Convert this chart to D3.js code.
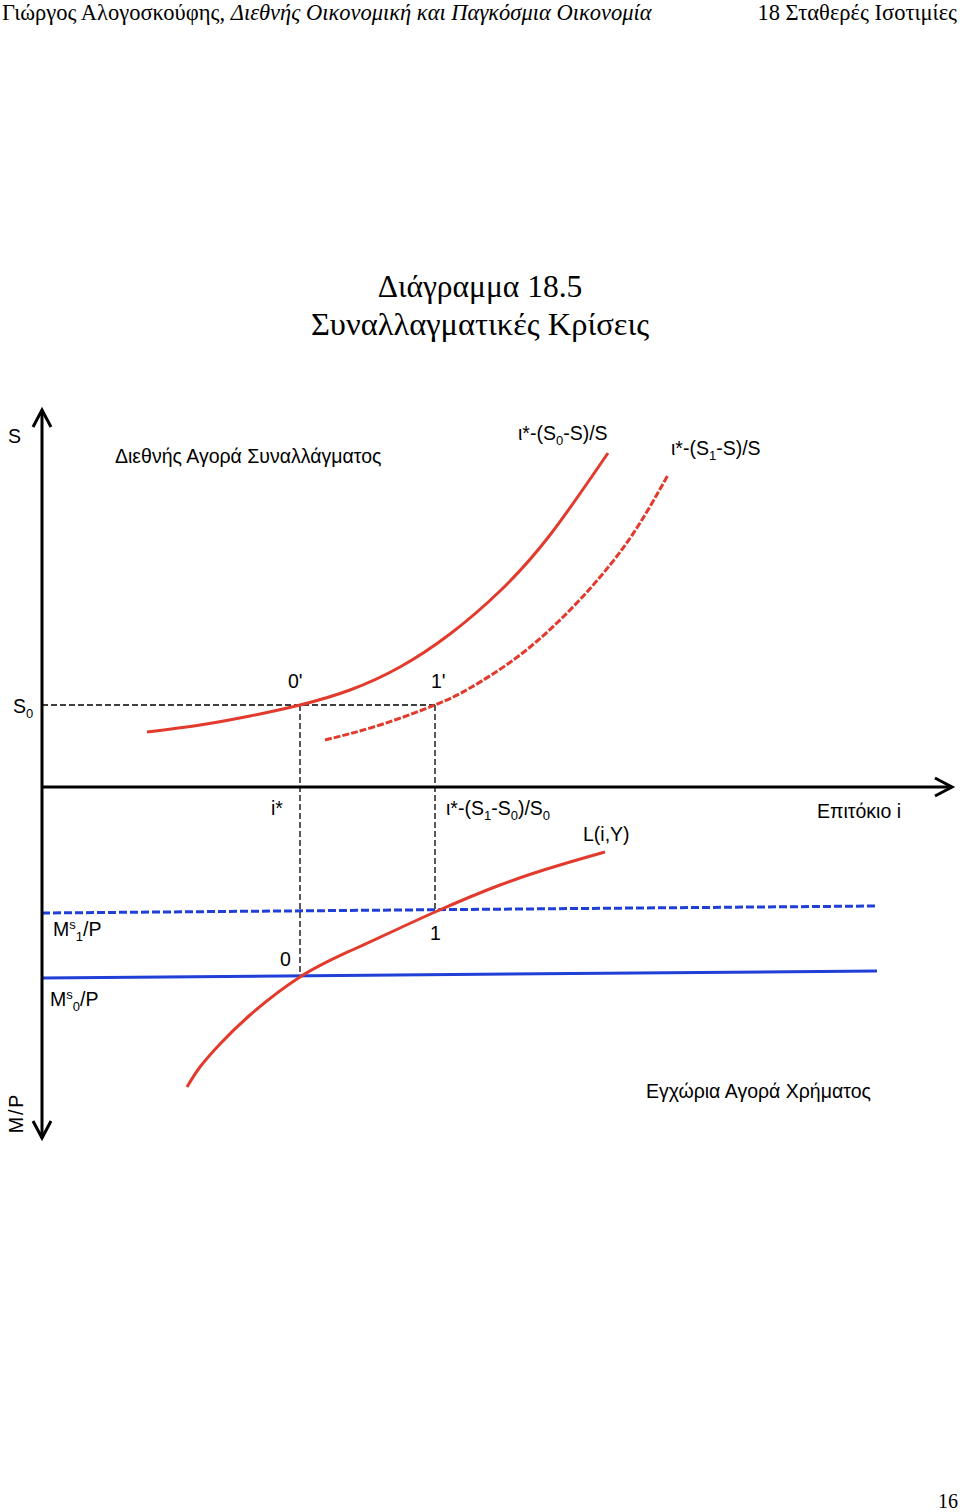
<!DOCTYPE html>
<html><head><meta charset="utf-8">
<script src="https://cdn.jsdelivr.net/npm/d3@7"></script>
<style>body{margin:0;background:#fff}</style>
</head><body>
<svg id="c" width="960" height="1512"></svg>
<script>
// ---- data (chart units: i measured from origin, S up from axis, M/P down from axis) ----
const iStar = 258;            // i*
const iShock = 393;           // i* - (S1-S0)/S0
const S0 = 82;                // S0 level
const curveS0 = [[105,55],[158,62],[208,71],[258,82],[308,97],[358,120],[408,153],[458,196],[508,252],[566,334]];
const curveS1 = [[283,47],[338,62],[393,82],[428,99],[478,132],[528,177],[568,222],[598,264],[626,312]];
const curveL  = [[145,300],[158,280],[178,257],[208,228],[258,190],[308,164],[358,141],[393,125],[458,98],[518,78],[563,65]];
const ms0 = [[0,191],[835,184]];   // M^s_0/P
const ms1 = [[0,126],[835,119]];   // M^s_1/P

const svg = d3.select("#c");
const x = d3.scaleLinear().domain([0,910]).range([42,952]);
const yU = d3.scaleLinear().domain([0,377]).range([787,410]);
const yL = d3.scaleLinear().domain([0,351]).range([787,1138]);

const red="#e23a2c", blue="#1f3fd6";
const lineU = d3.line().x(d=>x(d[0])).y(d=>yU(d[1])).curve(d3.curveNatural);
const lineL = d3.line().x(d=>x(d[0])).y(d=>yL(d[1])).curve(d3.curveNatural);
const lineS = d3.line().x(d=>x(d[0])).y(d=>yL(d[1]));

// header
const serif2 = "'Liberation Serif','DejaVu Serif',serif";
const sans = "'Liberation Sans',Arial,sans-serif";
const h = svg.append("text").attr("x",2).attr("y",20).attr("font-family",serif2).attr("font-size",22.5);
h.append("tspan").text("Γιώργος Αλογοσκούφης, ");
h.append("tspan").attr("font-style","italic").text("Διεθνής Οικονομική και Παγκόσμια Οικονομία");
svg.append("text").attr("x",957).attr("y",20).attr("text-anchor","end").attr("font-family",serif2).attr("font-size",22.5).text("18 Σταθερές Ισοτιμίες");
svg.append("text").attr("x",480).attr("y",297).attr("text-anchor","middle").attr("font-family",serif2).attr("font-size",31.5).text("Διάγραμμα 18.5");
svg.append("text").attr("x",480).attr("y",335).attr("text-anchor","middle").attr("font-family",serif2).attr("font-size",32.5).text("Συναλλαγματικές Κρίσεις");
svg.append("text").attr("x",958).attr("y",1508).attr("text-anchor","end").attr("font-family",serif2).attr("font-size",20).text("16");

// dashed guide lines
const g = svg.append("g").attr("stroke","#000").attr("stroke-width",1.3).attr("stroke-dasharray","6,3").attr("fill","none");
g.append("line").attr("x1",x(0)).attr("x2",x(iShock)).attr("y1",yU(S0)).attr("y2",yU(S0));
g.append("line").attr("x1",x(iStar)).attr("x2",x(iStar)).attr("y1",yU(S0)).attr("y2",yL(ms0[0][1]));
g.append("line").attr("x1",x(iShock)).attr("x2",x(iShock)).attr("y1",yU(S0)).attr("y2",yL(ms1[0][1]-2));

// blue lines
svg.append("path").attr("d",lineS(ms0)).attr("stroke",blue).attr("stroke-width",3).attr("fill","none");
svg.append("path").attr("d",lineS(ms1)).attr("stroke",blue).attr("stroke-width",3).attr("stroke-dasharray","8,3").attr("fill","none");

// red curves
svg.append("path").attr("d",lineU(curveS0)).attr("stroke",red).attr("stroke-width",3).attr("fill","none");
svg.append("path").attr("d",lineU(curveS1)).attr("stroke",red).attr("stroke-width",3).attr("stroke-dasharray","7,2").attr("fill","none");
svg.append("path").attr("d",lineL(curveL)).attr("stroke",red).attr("stroke-width",3).attr("fill","none");

// axes
const ax = svg.append("g").attr("stroke","#000").attr("stroke-width",3).attr("fill","none");
ax.append("line").attr("x1",x(0)).attr("x2",x(0)).attr("y1",yU(377)).attr("y2",yL(351));
ax.append("line").attr("x1",x(0)).attr("x2",x(910)).attr("y1",yU(0)).attr("y2",yU(0));
ax.append("path").attr("d",`M${x(0)-9},${yU(377)+17}L${x(0)},${yU(377)}L${x(0)+9},${yU(377)+17}`);
ax.append("path").attr("d",`M${x(0)-9},${yL(351)-17}L${x(0)},${yL(351)}L${x(0)+9},${yL(351)-17}`);
ax.append("path").attr("d",`M${x(910)-17},${yU(0)-9}L${x(910)},${yU(0)}L${x(910)-17},${yU(0)+9}`);

// labels: parts are [text, mode] with mode '' normal, 'sub', 'sup'
const FS = 19.5, SS = 13;
function lab(xp,yp,parts){
  const t = svg.append("text").attr("x",xp).attr("y",yp).attr("font-family",sans).attr("font-size",FS).attr("fill","#000");
  let cur = 0;
  parts.forEach(p=>{
    const [txt,mode] = Array.isArray(p)?p:[p,""];
    const target = mode==="sub"?5:mode==="sup"?-7:0;
    t.append("tspan").attr("font-size",mode?SS:FS).attr("dy",target-cur).text(txt);
    cur = target;
  });
  return t;
}
lab(8,443,["S"]);
lab(115,463,["Διεθνής Αγορά Συναλλάγματος"]);
lab(518,440,["ι*-(S",["0","sub"],"-S)/S"]);
lab(671,455,["ι*-(S",["1","sub"],"-S)/S"]);
lab(13,713,["S",["0","sub"]]);
lab(288,688,["0'"]);
lab(431,688,["1'"]);
lab(271,815,["i*"]);
lab(446,815,["ι*-(S",["1","sub"],"-S",["0","sub"],")/S",["0","sub"]]);
lab(583,841,["L(i,Y)"]);
lab(817,818,["Επιτόκιο i"]);
lab(53,936,["M",["s","sup"],["1","sub"],"/P"]);
lab(50,1006,["M",["s","sup"],["0","sub"],"/P"]);
lab(430,940,["1"]);
lab(280,966,["0"]);
svg.append("text").attr("transform","translate(23,1113) rotate(-90)").attr("text-anchor","middle").attr("font-family",sans).attr("font-size",FS).attr("letter-spacing",2).text("M/P");
lab(646,1098,["Εγχώρια Αγορά Χρήματος"]);
</script>
</body></html>
